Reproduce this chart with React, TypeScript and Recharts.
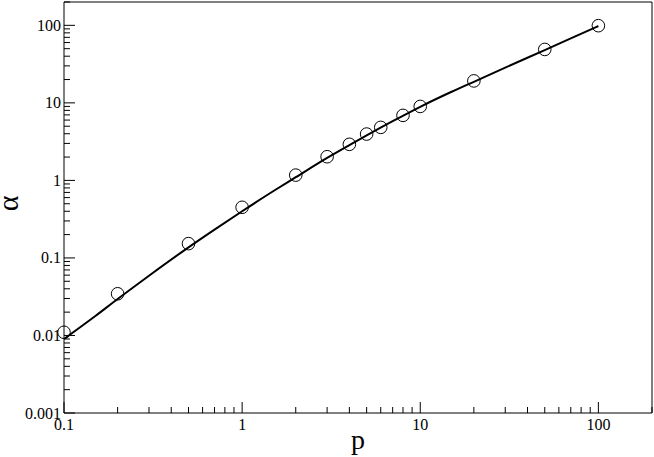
import { ComposedChart, XAxis, YAxis, Line, Scatter } from 'recharts';

// fitted curve
const curveP = [0.1, 0.15, 0.2, 0.3, 0.5, 0.7, 1, 1.5, 2, 3, 4, 5, 7, 10, 15, 20, 30, 50, 70, 100];
const curveAlpha = [0.009, 0.0178, 0.0295, 0.059, 0.137, 0.232, 0.4, 0.73, 1.1, 1.95, 2.85, 3.8, 5.8, 8.9, 13.9, 18.7, 28.5, 48, 68, 98];

// measured points (open circles)
const pointP = [0.1, 0.2, 0.5, 1, 2, 3, 4, 5, 6, 8, 10, 20, 50, 100];
const pointAlpha = [0.011, 0.0345, 0.153, 0.45, 1.17, 2.02, 2.92, 3.96, 4.83, 6.9, 9.0, 19.2, 48.9, 99];

const xTicks = [
    0.1, 0.2, 0.3, 0.4, 0.5, 0.6, 0.7, 0.8, 0.9,
    1, 2, 3, 4, 5, 6, 7, 8, 9,
    10, 20, 30, 40, 50, 60, 70, 80, 90,
    100, 200,
];
const xLabels = [0.1, 1, 10, 100];

const yTicks = [
    0.001, 0.002, 0.003, 0.004, 0.005, 0.006, 0.007, 0.008, 0.009,
    0.01, 0.02, 0.03, 0.04, 0.05, 0.06, 0.07, 0.08, 0.09,
    0.1, 0.2, 0.3, 0.4, 0.5, 0.6, 0.7, 0.8, 0.9,
    1, 2, 3, 4, 5, 6, 7, 8, 9,
    10, 20, 30, 40, 50, 60, 70, 80, 90,
    100, 200,
];
const yLabels = [0.001, 0.01, 0.1, 1, 10, 100];

const curveData = curveP.map((p, i) => ({ p, a: curveAlpha[i] }));
const pointData = pointP.map((p, i) => ({ p, a: pointAlpha[i] }));

const FONT = '"Liberation Serif", "Times New Roman", serif';

type TickProps = {
    x?: number;
    y?: number;
    payload?: { value: number };
    side: 'bottom' | 'top' | 'left' | 'right';
    labels: number[];
};

function LogTick({ x = 0, y = 0, payload, side, labels }: TickProps) {
    const v = payload ? payload.value : 0;
    const major = labels.includes(v);
    const len = major ? 11 : 6;
    let line = null;
    let label = null;
    if (side === 'bottom') {
        line = <line x1={x} y1={y} x2={x} y2={y - len} stroke="#000" />;
        if (major)
            label = (
                <text x={x} y={y + 17} textAnchor="middle" fontSize={16} fontFamily={FONT} fill="#000">
                    {String(v)}
                </text>
            );
    } else if (side === 'top') {
        line = <line x1={x} y1={y} x2={x} y2={y + len} stroke="#000" />;
    } else if (side === 'left') {
        line = <line x1={x} y1={y} x2={x + len} y2={y} stroke="#000" />;
        if (major)
            label = (
                <text x={x - 3} y={y + 5.5} textAnchor="end" fontSize={16} fontFamily={FONT} fill="#000">
                    {String(v)}
                </text>
            );
    } else {
        line = <line x1={x} y1={y} x2={x - len} y2={y} stroke="#000" />;
    }
    return (
        <g>
            {line}
            {label}
        </g>
    );
}

export default function App() {
    return (
        <div style={{ position: 'absolute', left: 0, top: 0 }}>
            <ComposedChart
                width={654}
                height={457}
                margin={{ top: 1, right: 1, bottom: 0, left: 0 }}
                style={{ background: '#fff' }}
            >
                <XAxis
                    dataKey="p"
                    type="number"
                    scale="log"
                    domain={[0.1, 200]}
                    ticks={xTicks}
                    interval={0}
                    height={44}
                    tickSize={0}
                    tickMargin={0}
                    tickLine={false}
                    axisLine={{ stroke: '#000' }}
                    tick={<LogTick side="bottom" labels={xLabels} />}
                    label={{
                        content: ({ viewBox }: any) => (
                            <text
                                x={viewBox.x + viewBox.width / 2}
                                y={viewBox.y + viewBox.height - 8}
                                textAnchor="middle"
                                fontSize={28}
                                fontFamily={FONT}
                                fill="#000"
                            >
                                p
                            </text>
                        ),
                    }}
                />
                <XAxis
                    xAxisId="top"
                    orientation="top"
                    dataKey="p"
                    type="number"
                    scale="log"
                    domain={[0.1, 200]}
                    ticks={xTicks}
                    interval={0}
                    height={1}
                    tickSize={0}
                    tickMargin={0}
                    tickLine={false}
                    axisLine={{ stroke: '#000' }}
                    tick={<LogTick side="top" labels={xLabels} />}
                />
                <YAxis
                    type="number"
                    scale="log"
                    domain={[0.001, 200]}
                    ticks={yTicks}
                    interval={0}
                    width={64}
                    tickSize={0}
                    tickMargin={0}
                    tickLine={false}
                    axisLine={{ stroke: '#000' }}
                    tick={<LogTick side="left" labels={yLabels} />}
                    label={{
                        content: ({ viewBox }: any) => {
                            const cx = viewBox.x + 18;
                            const cy = viewBox.y + viewBox.height / 2 - 4;
                            return (
                                <text
                                    x={cx}
                                    y={cy}
                                    transform={`rotate(-90 ${cx} ${cy})`}
                                    textAnchor="middle"
                                    fontSize={30}
                                    fontFamily={FONT}
                                    fill="#000"
                                >
                                    α
                                </text>
                            );
                        },
                    }}
                />
                <YAxis
                    yAxisId="right"
                    orientation="right"
                    type="number"
                    scale="log"
                    domain={[0.001, 200]}
                    ticks={yTicks}
                    interval={0}
                    width={1}
                    tickSize={0}
                    tickMargin={0}
                    tickLine={false}
                    axisLine={{ stroke: '#000' }}
                    tick={<LogTick side="right" labels={yLabels} />}
                />
                <Line
                    data={curveData}
                    dataKey="a"
                    type="monotone"
                    stroke="#000"
                    strokeWidth={2}
                    dot={false}
                    activeDot={false}
                    isAnimationActive={false}
                />
                <Scatter
                    data={pointData}
                    dataKey="a"
                    isAnimationActive={false}
                    shape={(props: any) => (
                        <circle cx={props.cx} cy={props.cy} r={6.3} fill="none" stroke="#000" strokeWidth={1} />
                    )}
                />
            </ComposedChart>
        </div>
    );
}
